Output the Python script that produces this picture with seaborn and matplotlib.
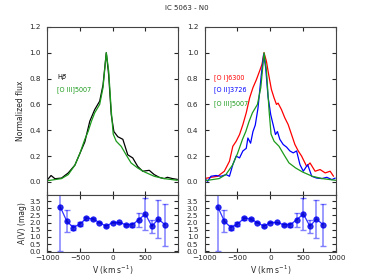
import matplotlib
matplotlib.use("Agg")
import matplotlib.pyplot as plt
import seaborn as sns
import pandas as pd

# velocity grids (km/s) and normalized profiles
v_hb = [-990, -940, -880, -780, -677, -576, -500, -424, -348, -273, -197, -146, -96,
        -60, -20, 20, 80, 157, 232, 308, 384, 460, 560, 636, 712, 788, 838, 914, 990]
f_hb = [0.02, 0.05, 0.025, 0.03, 0.07, 0.13, 0.22, 0.31, 0.47, 0.56, 0.625, 0.75, 1.0,
        0.83, 0.52, 0.39, 0.35, 0.33, 0.21, 0.186, 0.12, 0.083, 0.09, 0.057, 0.036,
        0.026, 0.036, 0.026, 0.02]

v_o3 = [-990, -780, -677, -576, -500, -424, -374, -323, -273, -197, -146, -96,
        -60, -20, 10, 56, 131, 207, 283, 384, 485, 636, 788, 990]
f_o3 = [0.01, 0.026, 0.057, 0.13, 0.22, 0.33, 0.39, 0.47, 0.535, 0.6, 0.73, 1.0,
        0.86, 0.55, 0.37, 0.315, 0.276, 0.21, 0.147, 0.108, 0.078, 0.044, 0.026, 0.013]

v_o1 = [-1005, -903, -800, -700, -622, -571, -520, -469, -418, -367, -316, -265, -214,
        -163, -128, -97, -61, -26, 15, 56, 92, 117, 168, 219, 270, 321, 372, 423, 474,
        551, 602, 679, 755, 832, 908, 959]
f_o1 = [0.026, 0.036, 0.044, 0.083, 0.16, 0.276, 0.315, 0.367, 0.444, 0.535, 0.65, 0.73,
        0.79, 0.86, 0.91, 1.0, 0.935, 0.83, 0.716, 0.65, 0.60, 0.61, 0.56, 0.496, 0.444,
        0.367, 0.29, 0.24, 0.2, 0.12, 0.147, 0.083, 0.096, 0.07, 0.083, 0.044]

v_o2 = [-1005, -954, -903, -827, -750, -673, -622, -571, -520, -469, -418, -367, -342,
        -301, -265, -230, -189, -138, -102, -71, -36, 5, 41, 77, 107, 143, 194, 245,
        296, 347, 398, 449, 500, 566, 628, 704, 781, 857, 934, 985]
f_o2 = [0.03, 0.005, 0.044, 0.05, 0.044, 0.057, 0.044, 0.134, 0.2, 0.186, 0.24, 0.26,
        0.34, 0.30, 0.39, 0.44, 0.57, 0.83, 0.99, 0.88, 0.66, 0.52, 0.444, 0.367, 0.39,
        0.33, 0.29, 0.27, 0.24, 0.225, 0.24, 0.134, 0.083, 0.134, 0.044, 0.03, 0.026,
        0.036, 0.018, 0.03]

# extinction A(V) per velocity bin
v_av = [-800, -700, -600, -500, -400, -300, -200, -100, 0, 100, 200, 300, 400, 500,
        600, 700, 800]
av = [3.1, 2.1, 1.65, 1.9, 2.3, 2.25, 2.0, 1.75, 2.0, 2.02, 1.85, 1.85, 2.2, 2.6,
      1.75, 2.25, 1.85]
av_err = [3.1, 0.75, 0.15, 0.15, 0.1, 0.07, 0.05, 0.05, 0.05, 0.05, 0.08, 0.15, 0.5,
          1.1, 0.45, 1.3, 1.45]

sns.set_style("ticks")
plt.rcParams.update({
    "font.family": ["DejaVu Sans"],
    "font.size": 5.5,
    "xtick.direction": "in", "ytick.direction": "in",
    "xtick.top": True, "ytick.right": True,
    "xtick.major.size": 3, "ytick.major.size": 3,
    "xtick.major.pad": 2.5, "ytick.major.pad": 4.5,
    "xtick.labelsize": 5.2, "ytick.labelsize": 5.2,
    "axes.linewidth": 0.8, "axes.edgecolor": "#444444",
})

fig = plt.figure(figsize=(3.74, 2.8), dpi=100)
ax_tl = fig.add_axes([0.126, 0.304, 0.350, 0.600])
ax_tr = fig.add_axes([0.547, 0.304, 0.352, 0.600])
ax_bl = fig.add_axes([0.126, 0.100, 0.350, 0.204])
ax_br = fig.add_axes([0.547, 0.100, 0.352, 0.204])

green = "#1a9a1a"

def prof(ax, v, f, color):
    sns.lineplot(x=v, y=f, ax=ax, color=color, lw=0.9, sort=False)

prof(ax_tl, v_hb, f_hb, "black")
prof(ax_tl, v_o3, f_o3, green)
prof(ax_tr, v_o1, f_o1, "red")
prof(ax_tr, v_o2, f_o2, "blue")
prof(ax_tr, v_o3, f_o3, green)

lab = dict(fontsize=4.7, va="center")
ax_tl.text(0.076, 0.70, r"H$\beta$", color="black", transform=ax_tl.transAxes, **lab)
ax_tl.text(0.076, 0.625, "[O III]5007", color=green, transform=ax_tl.transAxes, **lab)
ax_tr.text(0.075, 0.70, "[O I]6300", color="red", transform=ax_tr.transAxes, **lab)
ax_tr.text(0.075, 0.625, "[O II]3726", color="blue", transform=ax_tr.transAxes, **lab)
ax_tr.text(0.075, 0.545, "[O III]5007", color=green, transform=ax_tr.transAxes, **lab)

for ax in (ax_tl, ax_tr):
    ax.set_xlim(-1000, 1000)
    ax.set_ylim(-0.1, 1.2)
    ax.set_yticks([0.0, 0.2, 0.4, 0.6, 0.8, 1.0, 1.2])
    ax.set_xticks([-1000, -500, 0, 500, 1000])
    ax.set_xticklabels([])
ax_tl.set_ylabel("Normalized flux", fontsize=5.5, labelpad=3)

df_av = pd.DataFrame({"v": v_av, "av": av})
for ax in (ax_bl, ax_br):
    ax.errorbar(v_av, av, yerr=av_err, fmt="none", ecolor="blue", alpha=0.5,
                capsize=2, elinewidth=1.1)
    sns.lineplot(data=df_av, x="v", y="av", ax=ax, color="blue", lw=0.9, alpha=0.8,
                 marker="o", markersize=3.8, markeredgecolor="blue",
                 markerfacecolor="#0000cc")
    ax.set_xlim(-1000, 1000)
    ax.set_ylim(-0.05, 3.93)
    ax.set_yticks([0.0, 0.5, 1.0, 1.5, 2.0, 2.5, 3.0, 3.5])
    ax.set_xticks([-1000, -500, 0, 500, 1000])
    ax.set_xlabel(r"V (km s$^{-1}$)", fontsize=5.5, labelpad=1.5)
    ax.set_ylabel("")
ax_bl.set_xticklabels(["\u22121000", "\u2212500", "0", "500", ""])
ax_bl.set_ylabel("A(V) (mag)", fontsize=5.5, labelpad=2)

fig.text(0.5, 0.97, "IC 5063 - N0", ha="center", va="center", fontsize=5)

fig.savefig("out.png", dpi=100)
